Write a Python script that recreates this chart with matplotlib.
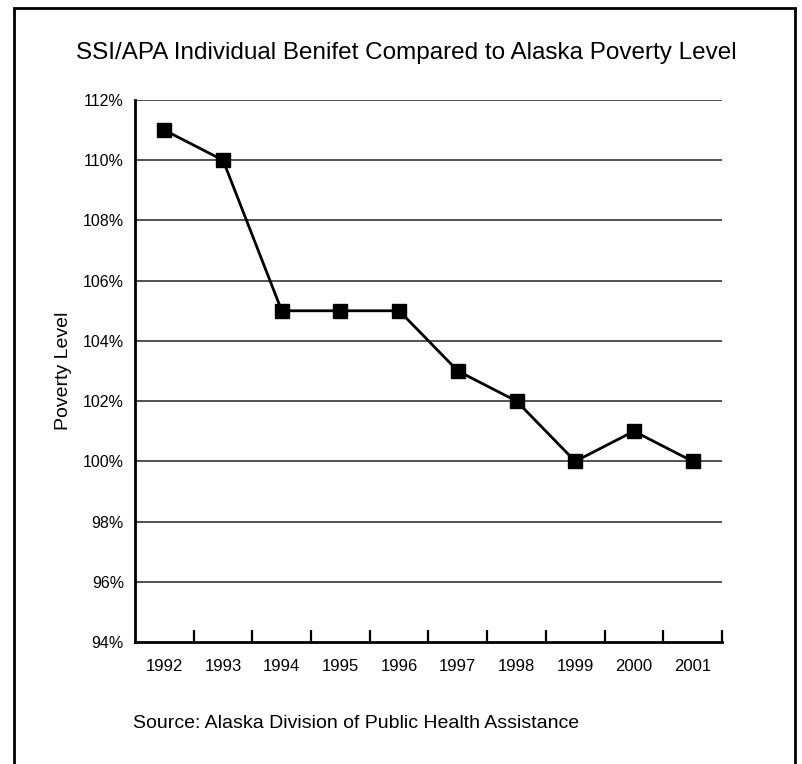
import matplotlib
matplotlib.use("Agg")
import matplotlib.pyplot as plt
from matplotlib.patches import Rectangle
import numpy as np

# data
years = ["1992", "1993", "1994", "1995", "1996", "1997", "1998", "1999", "2000", "2001"]
poverty_pct = [111, 110, 105, 105, 105, 103, 102, 100, 101, 100]
y_ticks = [94, 96, 98, 100, 102, 104, 106, 108, 110, 112]

plt.rcParams['font.family'] = ['Liberation Sans', 'DejaVu Sans']

fig = plt.figure(figsize=(8.03, 7.64), dpi=100)
W, H = 803, 764
ax = fig.add_axes([135 / W, 1 - 642 / H, (722 - 135) / W, (642 - 100) / H])

x = np.arange(len(years))
ax.plot(x, poverty_pct, color="black", lw=2, marker="s", markersize=10.5,
        markerfacecolor="black", markeredgecolor="black", zorder=3)

ax.set_xlim(-0.5, len(years) - 0.5)
ax.set_ylim(94, 112)

# gridlines
for v in y_ticks[1:]:
    ax.axhline(v, color="#222222", lw=1.1, zorder=1)

ax.set_yticks(y_ticks)
ax.set_yticklabels([f"{v}%" for v in y_ticks], fontsize=11.5)
ax.tick_params(axis="y", length=0, pad=8)

# x ticks between categories, labels at centres
ax.set_xticks(x + 0.5)
ax.set_xticklabels([])
ax.tick_params(axis="x", which="major", direction="in", length=9, width=1.6)
ax.set_xticks(x, minor=True)
ax.set_xticklabels(years, minor=True, fontsize=12)
ax.tick_params(axis="x", which="minor", length=0, pad=12)

for s in ["top", "right"]:
    ax.spines[s].set_visible(False)
for s in ["left", "bottom"]:
    ax.spines[s].set_linewidth(2)

ax.set_ylabel("Poverty Level", fontsize=14, labelpad=8)

fig.text(406 / W, 1 - 53 / H, "SSI/APA Individual Benifet Compared to Alaska Poverty Level",
         ha="center", va="center", fontsize=17.5)
fig.text(133 / W, 1 - 723 / H, "Source: Alaska Division of Public Health Assistance",
         ha="left", va="center", fontsize=14)

# outer frame
fig.add_artist(Rectangle((14 / W, -0.05), (795 - 14) / W, 1.05 - 8 / H,
                         transform=fig.transFigure, fill=False, lw=2, edgecolor="black"))

fig.savefig("out.png", dpi=100)
